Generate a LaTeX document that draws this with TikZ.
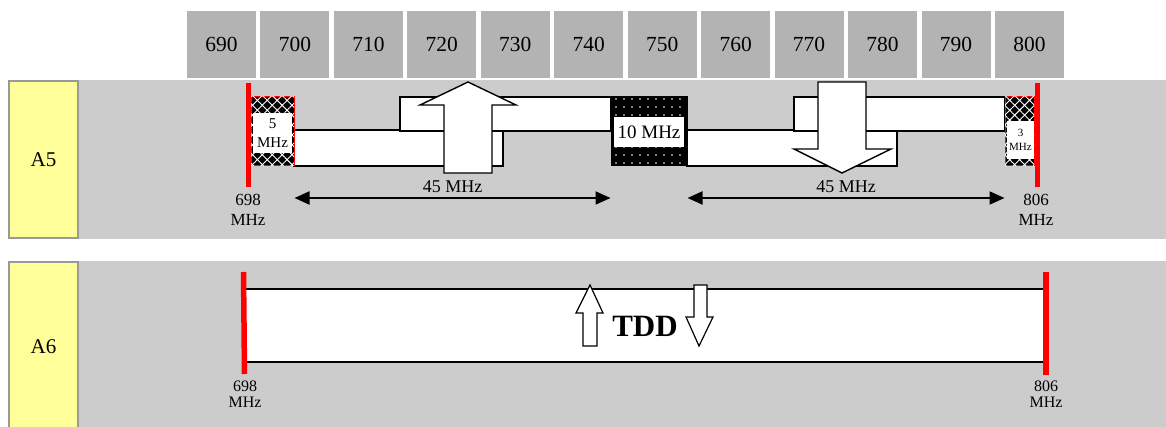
\documentclass[tikz,border=0pt]{standalone}
\usepackage{fontspec}
\setmainfont{Liberation Serif}
\usetikzlibrary{arrows.meta,patterns.meta}
\definecolor{hdrgray}{HTML}{B3B3B3}
\definecolor{bandgray}{HTML}{CCCCCC}
\definecolor{lblyellow}{HTML}{FFFF99}
\definecolor{lblborder}{HTML}{999999}
\definecolor{bandred}{HTML}{FF0000}
\begin{document}
\begin{tikzpicture}[x=1pt,y=-1pt,
  hdrbox/.style={fill=hdrgray, minimum width=69pt, minimum height=67pt, inner sep=0pt,
    font=\fontsize{21.5}{24}\selectfont},
  yellowlbl/.style={fill=lblyellow, draw=lblborder, line width=1.2pt},
  lbltext/.style={font=\fontsize{21}{24}\selectfont, inner sep=0pt},
  whiteband/.style={fill=white, draw=black, line width=1.3pt},
  hatchbox/.style={minimum height=69pt, inner sep=0pt, fill=black, draw=bandred, line width=1pt,
    postaction={pattern={Hatch[angle=45,distance=7pt,line width=0.9pt]}, pattern color=white}},
  dotbox/.style={minimum height=69pt, inner sep=0pt, fill=black, draw=black, line width=1pt,
    postaction={pattern={Dots[distance=8pt,radius=0.8pt]}, pattern color=white}},
  inlbl/.style={fill=white, inner sep=0pt, align=center},
  redline/.style={draw=bandred, line width=5pt},
  freqlbl/.style={align=center, inner sep=0pt, font=\fontsize{17}{20}\selectfont},
  freqlblb/.style={align=center, inner sep=0pt, font=\fontsize{16}{16}\selectfont},
  dimarrow/.style={line width=2pt, {Triangle[length=15pt,width=13pt]}-{Triangle[length=15pt,width=13pt]}},
  dimlbl/.style={inner sep=0pt, anchor=base, font=\fontsize{18}{20}\selectfont},
  blockarrow/.style={fill=white, draw=black, line width=1.4pt, line join=miter},
  smallarrow/.style={fill=white, draw=black, line width=1.2pt, line join=miter}
]
\useasboundingbox (0,0) rectangle (1166,427);
\clip (0,0) rectangle (1166,427);
\fill[white] (0,0) rectangle (1166,427);

% header
\foreach \f [count=\i from 0] in {690,700,...,800}
  \node[hdrbox] (h\f) at ({221.5+\i*73.45},44.5) {\f};

% bands
\fill[bandgray] (8,80) rectangle (1166,239);
\fill[bandgray] (8,261) rectangle (1166,440);

% A5 label
\draw[yellowlbl] (9,81) rectangle (78,238);
\node[lbltext] (a5) at (43.5,160) {A5};
% A6 label
\draw[yellowlbl] (9,262) rectangle (78,440);
\node[lbltext] (a6) at (43.5,347) {A6};

% A5 bands
\draw[whiteband] (294,130) rectangle (503,166);
\draw[whiteband] (400,97) rectangle (611,131);
\draw[whiteband] (687,130) rectangle (897,166);
\draw[whiteband] (794,97) rectangle (1005,131);

% guard boxes
\node[hatchbox, minimum width=43pt] (b5) at (272.5,131.5) {};
\node[dotbox, minimum width=76pt] (b10) at (649,131.5) {};
\node[hatchbox, minimum width=29pt] (b3) at (1019.5,131.5) {};
\node[inlbl, minimum width=39pt, minimum height=40pt, font=\fontsize{15}{19}\selectfont] (l5) at (272.5,133) {5\\MHz};
\node[inlbl, minimum width=70pt, minimum height=30pt, font=\fontsize{19}{20}\selectfont] (l10) at (649,132) {10 MHz};
\node[inlbl, minimum width=27pt, minimum height=38pt, font=\fontsize{11}{14}\selectfont] (l3) at (1020.5,140) {3\\MHz};

% red limits A5
\draw[redline] (248,83) -- (248,187);
\draw[redline] (1037,83) -- (1037,187);
\node[freqlbl] (f698a) at (248,210) {698\\MHz};
\node[freqlbl] (f806a) at (1036,210) {806\\MHz};

% block arrows
\draw[blockarrow] (444,173) -- (444,105) -- (420,105) -- (468,82) -- (516,105) -- (492,105) -- (492,173) -- cycle;
\draw[blockarrow] (818,82) -- (866,82) -- (866,149) -- (891,149) -- (842,173) -- (794,149) -- (818,149) -- cycle;

% duplex spacing
\coordinate (ya) at (0,198);
\draw[dimarrow] (b5.east |- ya) -- (b10.west |- ya);
\draw[dimarrow] (b10.east |- ya) -- (b3.west |- ya);
\node[dimlbl] (d1) at (452.5,193) {45 MHz};
\node[dimlbl] (d2) at (846,193) {45 MHz};

% A6
\draw[whiteband] (245,289) rectangle (1044,362);
\draw[redline, line width=5.5pt] (243.5,272) -- (244.5,374);
\draw[redline, line width=5.5pt] (1046,272) -- (1046,375);
\node[freqlblb] (f698b) at (245,394) {698\\MHz};
\node[freqlblb] (f806b) at (1046,394) {806\\MHz};

\node[inner sep=0pt, font=\bfseries\fontsize{31}{32}\selectfont] (tdd) at (645,326) {TDD};
\draw[smallarrow] (583,346) -- (583,313) -- (576,313) -- (590,285) -- (603,313) -- (597,313) -- (597,346) -- cycle;
\draw[smallarrow] (694,285) -- (707,285) -- (707,317) -- (713,317) -- (699,346) -- (686,317) -- (694,317) -- cycle;
\end{tikzpicture}
\end{document}
